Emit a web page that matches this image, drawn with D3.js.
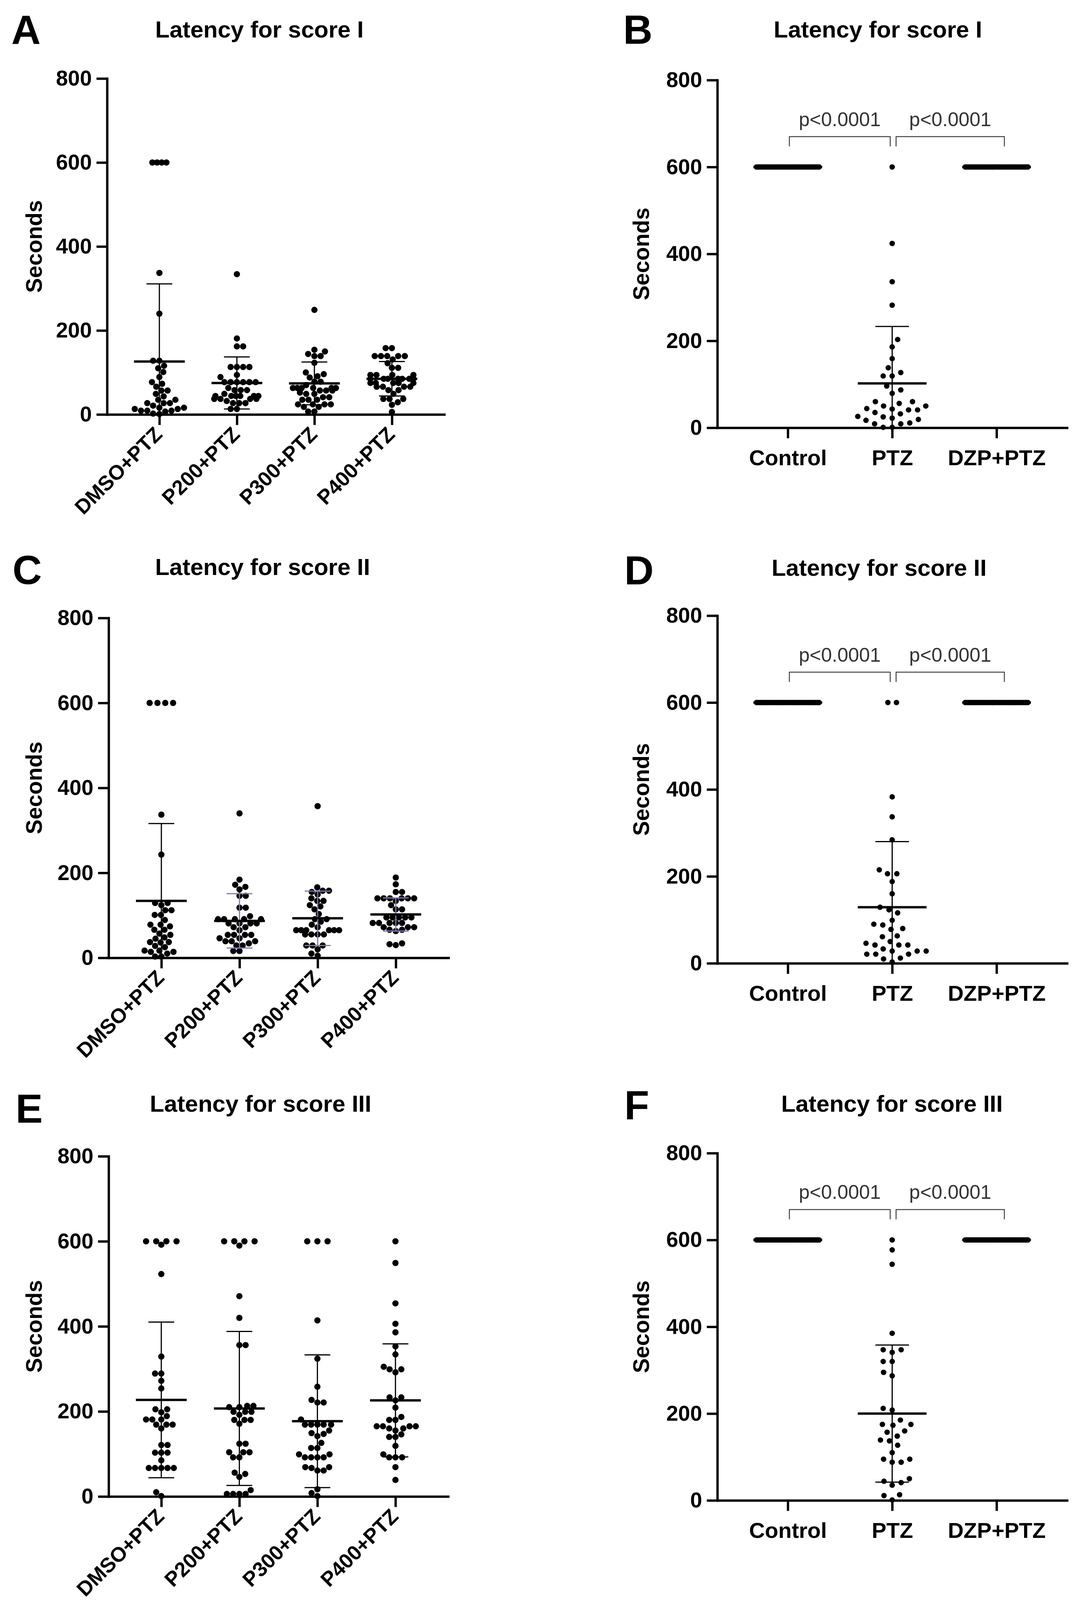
<!DOCTYPE html>
<html lang="en">
<head>
<meta charset="UTF-8">
<title>Latency scatter panels</title>
<script src="https://d3js.org/d3.v7.min.js"></script>
<style>
  body { margin: 0; background: #fff; overflow: hidden; }
  svg { display: block; }
  text { font-family: "Liberation Sans", Arial, sans-serif; }
</style>
</head>
<body>
<script>
// ---- categories and ticks ----
const leftGroups = ["DMSO+PTZ", "P200+PTZ", "P300+PTZ", "P400+PTZ"];
const rightGroups = ["Control", "PTZ", "DZP+PTZ"];
const yTicks = [0, 200, 400, 600, 800];
const cutoff = 600;

// ---- panel A : latency for score I ----
const aDMSO = [600, 600, 600, 600, 337, 240, 128, 128, 116, 110, 101, 89, 77, 73, 66, 57, 57, 49, 43, 35, 35, 27, 27, 27, 21, 16, 16, 13, 13, 9, 9, 9, 7, 2, 1];
const aP200 = [334, 181, 162, 162, 113, 113, 113, 113, 94, 89, 77, 77, 77, 77, 77, 77, 63, 58, 58, 58, 49, 44, 44, 44, 44, 44, 44, 37, 37, 37, 37, 32, 27, 27, 27, 13, 13];
const aP300 = [249, 154, 150, 144, 139, 139, 123, 100, 96, 91, 88, 78, 78, 70, 63, 63, 63, 63, 63, 63, 57, 57, 57, 52, 49, 49, 41, 41, 35, 35, 35, 24, 24, 24, 24, 18, 18, 7, 7];
const aP400 = [158, 158, 139, 139, 139, 139, 139, 131, 122, 111, 111, 94, 94, 94, 94, 85, 85, 85, 85, 85, 85, 85, 75, 75, 75, 75, 75, 66, 66, 66, 66, 58, 58, 49, 37, 37, 37, 29, 23, 6];
const aMean = [126, 75, 74, 85];
const aSD = [185, 62, 51, 41];

// ---- panel C : latency for score II ----
const cDMSO = [600, 600, 600, 600, 337, 243, 129, 129, 124, 112, 112, 101, 101, 89, 78, 78, 74, 66, 66, 57, 54, 48, 45, 37, 37, 36, 28, 25, 17, 17, 14, 14, 10, 3, 3];
const cP200 = [340, 184, 172, 167, 161, 146, 146, 118, 118, 98, 91, 91, 91, 91, 91, 81, 81, 81, 81, 72, 72, 65, 54, 54, 54, 54, 46, 46, 39, 39, 39, 34, 29, 29, 16, 16];
const cP300 = [357, 166, 158, 158, 155, 149, 140, 134, 134, 124, 121, 114, 103, 91, 91, 85, 78, 72, 65, 65, 65, 65, 65, 65, 55, 55, 55, 55, 29, 29, 29, 20, 10, 5];
const cP400 = [189, 173, 155, 155, 140, 140, 140, 140, 140, 140, 134, 124, 114, 114, 95, 95, 95, 95, 95, 82, 82, 82, 82, 82, 72, 72, 72, 66, 66, 63, 34, 32, 30];
const cMean = [134, 87, 93, 102];
const cSD = [182, 64, 64, 39];

// ---- panel E : latency for score III ----
const eDMSO = [600, 600, 600, 600, 592, 523, 329, 289, 289, 272, 254, 205, 205, 198, 189, 181, 181, 181, 169, 169, 169, 160, 121, 121, 103, 103, 103, 85, 67, 67, 67, 67, 67, 10, 1];
const eP200 = [600, 600, 600, 600, 590, 471, 420, 356, 356, 213, 213, 210, 210, 199, 199, 199, 192, 180, 180, 180, 171, 124, 124, 104, 104, 104, 92, 92, 56, 53, 46, 15, 6, 6, 6, 6];
const eP300 = [600, 600, 600, 414, 324, 258, 227, 221, 221, 181, 169, 169, 169, 169, 169, 155, 149, 147, 142, 126, 114, 114, 99, 99, 92, 92, 92, 92, 69, 69, 67, 61, 61, 17, 8, 1];
const eP400 = [600, 549, 454, 406, 386, 353, 334, 305, 299, 299, 292, 233, 233, 226, 209, 187, 180, 180, 165, 165, 165, 165, 160, 160, 155, 146, 140, 140, 119, 99, 92, 92, 92, 69, 39];
const eMean = [227, 207, 177, 226];
const eSD = [183, 181, 156, 133];

// ---- panels B, D, F : controls vs PTZ vs DZP+PTZ ----
const controlAll = [600, 600, 600, 600, 600, 600, 600, 600, 600, 600, 600, 600, 600, 600, 600, 600, 600, 600,
                    600, 600, 600, 600, 600, 600, 600, 600, 600, 600, 600, 600, 600, 600, 600, 600, 600, 600];
const dzpAll = [600, 600, 600, 600, 600, 600, 600, 600, 600, 600, 600, 600, 600, 600, 600, 600, 600, 600,
                600, 600, 600, 600, 600, 600, 600, 600, 600, 600, 600, 600, 600, 600, 600, 600, 600, 600];
const bPTZ = [600, 424, 336, 282, 203, 186, 159, 138, 127, 119, 119, 96, 87, 79, 60, 60, 56, 50, 50, 44, 43, 41, 41, 35, 32, 26, 25, 22, 19, 17, 11, 9, 9, 1, 1];
const dPTZ = [600, 600, 383, 337, 284, 215, 206, 206, 188, 160, 129, 123, 116, 99, 90, 88, 80, 78, 63, 61, 50, 46, 42, 42, 42, 33, 28, 28, 28, 21, 21, 21, 12, 10, 3];
const fPTZ = [600, 577, 544, 385, 347, 347, 341, 320, 320, 295, 287, 212, 208, 185, 175, 175, 173, 160, 157, 148, 139, 137, 127, 110, 95, 95, 88, 88, 50, 44, 41, 35, 13, 11, 1];
const bMean = [600, 102, 600], bSD = [0, 131, 0];
const dMean = [600, 129, 600], dSD = [0, 151, 0];
const fMean = [600, 200, 600], fSD = [0, 158, 0];

const pLabel = "p<0.0001";
const bracketLevel = 670;

// ---- layout ----
const W = 2754, H = 4146;
const FONT = '"Liberation Sans", Arial, sans-serif';

const panels = [
  {letter: "A", title: "Latency for score I", groups: leftGroups, sets: [aDMSO, aP200, aP300, aP400], mean: aMean, sd: aSD,
   x0: 274, x1: 1137, yTop: 201, yBot: 1061, titleX: 664, titleY: 96, lx: 29, ly: 112, ylx: 87, side: "left", tieGap: 12},
  {letter: "B", title: "Latency for score I", groups: rightGroups, sets: [controlAll, bPTZ, dzpAll], mean: bMean, sd: bSD,
   x0: 1836, x1: 2731, yTop: 205, yBot: 1095, titleX: 2247, titleY: 96, lx: 1595, ly: 112, ylx: 1641, side: "right", tieGap: 22},
  {letter: "C", title: "Latency for score II", groups: leftGroups, sets: [cDMSO, cP200, cP300, cP400], mean: cMean, sd: cSD,
   x0: 278, x1: 1148, yTop: 1582, yBot: 2452, titleX: 672, titleY: 1472, lx: 32, ly: 1495, ylx: 87, side: "left", tieGap: 20,
   errColor: ["#000", "#7b78b8", "#7b78b8", "#7b78b8"]},
  {letter: "D", title: "Latency for score II", groups: rightGroups, sets: [controlAll, dPTZ, dzpAll], mean: dMean, sd: dSD,
   x0: 1836, x1: 2731, yTop: 1576, yBot: 2466, titleX: 2250, titleY: 1474, lx: 1598, ly: 1496, ylx: 1641, side: "right", tieGap: 22},
  {letter: "E", title: "Latency for score III", groups: leftGroups, sets: [eDMSO, eP200, eP300, eP400], mean: eMean, sd: eSD,
   x0: 278, x1: 1147, yTop: 2960, yBot: 3831, titleX: 667, titleY: 2846, lx: 40, ly: 2874, ylx: 87, side: "left", tieGap: 26},
  {letter: "F", title: "Latency for score III", groups: rightGroups, sets: [controlAll, fPTZ, dzpAll], mean: fMean, sd: fSD,
   x0: 1836, x1: 2731, yTop: 2952, yBot: 3841, titleX: 2283, titleY: 2846, lx: 1598, ly: 2865, ylx: 1641, side: "right", tieGap: 22}
];

const svg = d3.select("body").append("svg")
  .attr("width", W).attr("height", H)
  .style("background", "#fff");

// simple beeswarm: place each dot at the nearest free horizontal offset,
// then lay out the rows of cut-off (600 s) values side by side
function swarm(values, y, cx, d, maxSpan, tieGap) {
  const pts = values.map(v => ({v: v, y: y(v), x: cx}));
  const order = pts.slice().sort((a, b) => b.y - a.y);
  const placed = [];
  order.forEach((p, i) => {
    const sign = i % 2 ? -1 : 1;
    for (let k = 0; k < 2000; k++) {
      const off = k === 0 ? 0 : (k % 2 ? sign : -sign) * Math.ceil(k / 2);
      const x = cx + off;
      if (placed.every(q => (q.x - x) ** 2 + (q.y - p.y) ** 2 >= d * d)) { p.x = x; break; }
    }
    placed.push(p);
  });
  d3.group(pts, p => p.v).forEach(row => {
    if (row.length < 2) return;
    if (row[0].v === cutoff) {
      const gap = Math.min(tieGap, maxSpan / (row.length - 1));
      row.sort((a, b) => a.x - b.x).forEach((p, j) => { p.x = cx + (j - (row.length - 1) / 2) * gap; });
      return;
    }
    const lo = d3.min(row, p => p.x), hi = d3.max(row, p => p.x);
    if (hi - lo > maxSpan) {
      const mid = (lo + hi) / 2;
      row.forEach(p => { p.x = cx + (p.x - mid) * maxSpan / (hi - lo); });
    }
  });
  return pts;
}

panels.forEach(p => {
  const left = p.side === "left";
  const g = svg.append("g");
  const y = d3.scaleLinear().domain([0, 800]).range([p.yBot, p.yTop]);
  const x = d3.scalePoint().domain(p.groups).range([p.x0, p.x1]).padding(0.675);

  // panel letter + title
  g.append("text").attr("x", p.lx).attr("y", p.ly)
    .attr("font-size", 104).attr("font-weight", "bold").text(p.letter);
  g.append("text").attr("x", p.titleX).attr("y", p.titleY)
    .attr("text-anchor", "middle").attr("font-size", 60).attr("font-weight", "bold").text(p.title);

  // y axis
  const yAx = g.append("g").attr("transform", `translate(${p.x0},0)`)
    .call(d3.axisLeft(y).tickValues(yTicks).tickSize(27).tickSizeOuter(0).tickPadding(12));
  yAx.select(".domain").attr("stroke-width", 6).attr("stroke-linecap", "square");
  yAx.selectAll(".tick line").attr("stroke-width", 6);
  yAx.selectAll(".tick text").attr("font-size", 55).attr("font-weight", "bold")
    .attr("font-family", FONT).attr("fill", "#000");

  g.append("text")
    .attr("transform", `translate(${p.ylx},${(p.yTop + p.yBot) / 2}) rotate(-90)`)
    .attr("text-anchor", "middle").attr("dy", "0.35em")
    .attr("font-size", 57).attr("font-weight", "bold").text("Seconds");

  // x axis
  const xAx = g.append("g").attr("transform", `translate(0,${p.yBot})`)
    .call(d3.axisBottom(x).tickSize(27).tickSizeOuter(0));
  xAx.select(".domain").attr("stroke-width", 6).attr("stroke-linecap", "square");
  xAx.selectAll(".tick line").attr("stroke-width", 6);
  const xt = xAx.selectAll(".tick text").attr("font-weight", "bold")
    .attr("font-family", FONT).attr("fill", "#000");
  if (left) {
    xt.attr("font-size", 53).attr("text-anchor", "end").attr("y", null).attr("dy", null)
      .attr("transform", "translate(10,54) rotate(-45)");
  } else {
    xt.attr("font-size", 56).attr("y", 56);
  }

  // dots
  const d = left ? 16 : 23;
  const r = left ? 8 : 7;
  const maxSpan = left ? 110 : 160;
  p.sets.forEach((vals, i) => {
    const cx = x(p.groups[i]);
    const pts = swarm(vals, y, cx, d, maxSpan, p.tieGap);
    g.append("g").selectAll("circle").data(pts).join("circle")
      .attr("cx", q => q.x).attr("cy", q => q.y).attr("r", r).attr("fill", "#000");
  });

  // mean and SD
  const capHalf = left ? 33 : 43;
  const meanHalf = left ? 65 : 88;
  p.groups.forEach((grp, i) => {
    const cx = x(grp);
    const m = p.mean[i], s = p.sd[i];
    const col = p.errColor ? p.errColor[i] : "#000";
    if (s > 0) {
      const lo = Math.max(0, m - s), hi = m + s;
      g.append("line").attr("x1", cx).attr("x2", cx).attr("y1", y(lo)).attr("y2", y(hi))
        .attr("stroke", col).attr("stroke-width", 3);
      g.append("line").attr("x1", cx - capHalf).attr("x2", cx + capHalf).attr("y1", y(hi)).attr("y2", y(hi))
        .attr("stroke", col).attr("stroke-width", 3);
      if (m - s >= 0) {
        g.append("line").attr("x1", cx - capHalf).attr("x2", cx + capHalf).attr("y1", y(m - s)).attr("y2", y(m - s))
          .attr("stroke", col).attr("stroke-width", 3);
      }
    }
    g.append("line").attr("x1", cx - meanHalf).attr("x2", cx + meanHalf).attr("y1", y(m)).attr("y2", y(m))
      .attr("stroke", "#000").attr("stroke-width", 6);
  });

  // significance brackets
  if (!left) {
    const pairs = [[x(p.groups[0]) + 4, x(p.groups[1]) - 5], [x(p.groups[1]) + 10, x(p.groups[2]) + 20]];
    const by = y(bracketLevel);
    pairs.forEach(([a, b]) => {
      g.append("path")
        .attr("d", `M${a},${by + 25}V${by}H${b}V${by + 25}`)
        .attr("fill", "none").attr("stroke", "#444").attr("stroke-width", 2.5);
      g.append("text").attr("x", (a + b) / 2).attr("y", by - 27)
        .attr("text-anchor", "middle").attr("font-size", 50).attr("fill", "#333").text(pLabel);
    });
  }
});
</script>
</body>
</html>
